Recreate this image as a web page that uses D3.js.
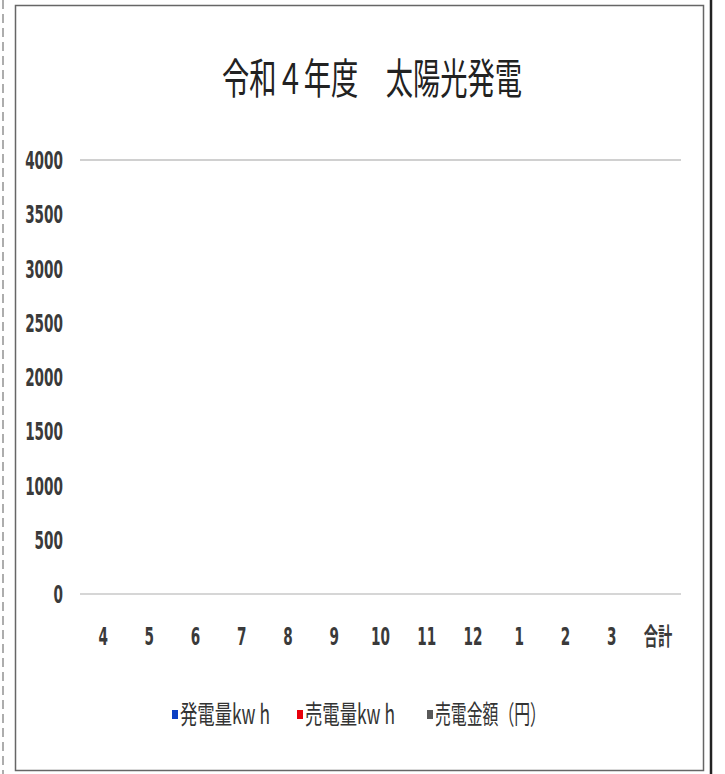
<!DOCTYPE html>
<html>
<head>
<meta charset="utf-8">
<script src="https://cdn.jsdelivr.net/npm/d3@7"></script>
<style>
  body { margin: 0; background: #fff; }
</style>
</head>
<body>
<div id="graph"></div>
<script>
// chart data (the sheet has no values entered yet)
var months = ['4', '5', '6', '7', '8', '9', '10', '11', '12', '1', '2', '3', '合計'];
var seriesNames = ['発電量kw h', '売電量kw h', '売電金額（円）'];
var seriesColors = ['#0b3fc4', '#e8000b', '#595959'];
var generated = [0, 0, 0, 0, 0, 0, 0, 0, 0, 0, 0, 0, 0];
var sold = [0, 0, 0, 0, 0, 0, 0, 0, 0, 0, 0, 0, 0];
var amount = [0, 0, 0, 0, 0, 0, 0, 0, 0, 0, 0, 0, 0];
var yTicks = [0, 500, 1000, 1500, 2000, 2500, 3000, 3500, 4000];
var title = '令和４年度　太陽光発電';

var w = 725, h = 774;
var numFont = '"DejaVu Sans", sans-serif';
var jpFont = '"Noto Sans CJK JP", sans-serif';

var svg = d3.select('#graph').append('svg')
  .attr('width', w)
  .attr('height', h);

// squeeze a text horizontally so it fills the given width
function squeeze(sel, width, sy) {
  sel.each(function() {
    var t = d3.select(this);
    var len = this.getComputedTextLength();
    var tx = +t.attr('data-x') || 0, ty = +t.attr('data-y') || 0;
    t.attr('transform', 'translate(' + tx + ',' + ty + ') scale(' + (width / len) + ',' + sy + ')');
  });
}

// frame: dashed outer line on the left, solid box, dark line on the right
svg.append('line')
  .attr('x1', 3).attr('x2', 3).attr('y1', 0).attr('y2', h)
  .style('stroke', '#777').style('stroke-width', 1.2)
  .style('stroke-dasharray', '9,5');
svg.append('rect')
  .attr('x', 15.5).attr('y', 5.5)
  .attr('width', 688).attr('height', 765)
  .attr('fill', 'none')
  .style('stroke', '#666').style('stroke-width', 1.5);
svg.append('line')
  .attr('x1', 711).attr('x2', 711).attr('y1', 0).attr('y2', h)
  .style('stroke', '#222').style('stroke-width', 2.5);

var x = d3.scaleBand()
  .domain(months)
  .range([80, 681]);

var y = d3.scaleLinear()
  .domain([0, 4000])
  .range([594, 160]);

var x1 = d3.scaleBand()
  .domain(seriesNames)
  .range([0, x.bandwidth()])
  .padding(0.1);

// title
svg.append('text')
  .attr('data-x', 372)
  .attr('data-y', 94)
  .attr('text-anchor', 'middle')
  .style('font-family', jpFont)
  .style('font-size', '40px')
  .style('fill', '#222')
  .text(title)
  .call(squeeze, 300, 1.05);

// top gridline and baseline
svg.append('line')
  .attr('x1', x.range()[0]).attr('x2', x.range()[1])
  .attr('y1', y(4000)).attr('y2', y(4000))
  .style('stroke', '#d0d0d0').style('stroke-width', 2);
svg.append('line')
  .attr('x1', x.range()[0]).attr('x2', x.range()[1])
  .attr('y1', y(0)).attr('y2', y(0))
  .style('stroke', '#c8c8c8').style('stroke-width', 1.5);

// y axis labels
var yAxis = d3.axisLeft(y)
  .tickValues(yTicks)
  .tickFormat(d3.format('d'))
  .tickSize(0)
  .tickPadding(0);
var gy = svg.append('g')
  .attr('transform', 'translate(63,0)')
  .call(yAxis);
gy.select('.domain').remove();
gy.selectAll('text')
  .attr('dy', '0.36em')
  .attr('transform', 'scale(0.68,1.2)')
  .attr('y', function(d) { return 0; })
  .style('font-family', numFont)
  .style('font-size', '20px')
  .style('font-weight', 'bold')
  .style('fill', '#3a3a3a');

// x axis labels
var xAxis = d3.axisBottom(x)
  .tickSize(0)
  .tickPadding(0);
var gx = svg.append('g')
  .attr('transform', 'translate(0,' + 636 + ')')
  .call(xAxis);
gx.select('.domain').remove();
gx.selectAll('text')
  .attr('y', 0)
  .attr('dy', '0.36em')
  .attr('transform', function(d) { return d === '合計' ? 'scale(0.75,1.25)' : 'scale(0.68,1.2)'; })
  .style('font-family', function(d) { return d === '合計' ? jpFont : numFont; })
  .style('font-size', function(d) { return d === '合計' ? '19px' : '20px'; })
  .style('font-weight', 'bold')
  .style('fill', '#3a3a3a');

// bars (all zero)
var rows = months.map(function(m, i) {
  return { month: m, values: [generated[i], sold[i], amount[i]] };
});
var groups = svg.selectAll('.month')
  .data(rows)
  .enter().append('g')
  .attr('class', 'month')
  .attr('transform', function(d) { return 'translate(' + x(d.month) + ',0)'; });
groups.selectAll('rect')
  .data(function(d) { return d.values.map(function(v, j) { return { name: seriesNames[j], value: v }; }); })
  .enter().append('rect')
  .attr('x', function(d) { return x1(d.name); })
  .attr('width', x1.bandwidth())
  .attr('y', function(d) { return y(d.value); })
  .attr('height', function(d) { return y(0) - y(d.value); })
  .attr('fill', function(d, j) { return seriesColors[j]; });

// legend
var legendX = [172, 297, 427];
var legendW = [90, 90, 111];
var legend = svg.selectAll('.legend')
  .data(seriesNames)
  .enter().append('g')
  .attr('class', 'legend')
  .attr('transform', function(d, i) { return 'translate(' + legendX[i] + ',714)'; });
legend.append('rect')
  .attr('x', 0).attr('y', -4)
  .attr('width', 6).attr('height', 9)
  .attr('fill', function(d, i) { return seriesColors[i]; });
legend.append('text')
  .attr('data-x', 8)
  .attr('dy', '0.36em')
  .style('font-family', jpFont)
  .style('font-size', '24px')
  .style('fill', '#333')
  .text(function(d) { return d; })
  .each(function(d, i) { d3.select(this).call(squeeze, legendW[i], 1.1); });
</script>
</body>
</html>
